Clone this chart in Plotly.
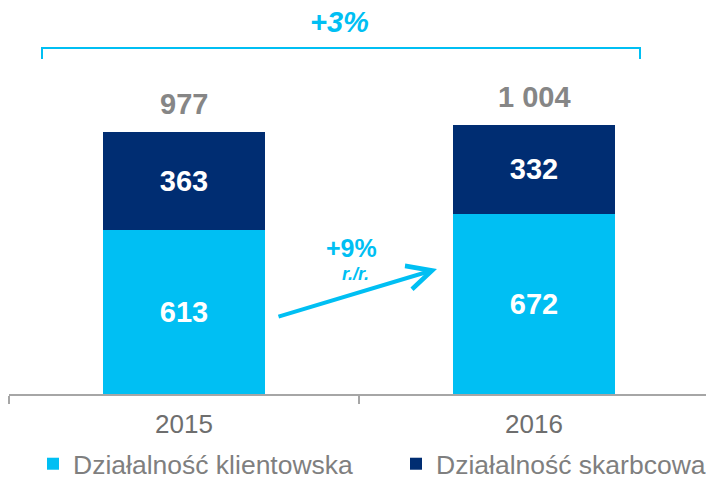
import plotly.graph_objects as go

years = ["2015", "2016"]
klient = [613, 672]
skarb = [363, 332]
totals = [977, 1004]
total_labels = ["977", "1 004"]
growth_total = "+3%"
growth_klient = "+9%"
growth_sub = "r./r."

LIGHT = "#00BFF3"
DARK = "#002D72"
GREY_TXT = "#868686"
AXIS_GREY = "#A6A6A6"
FONT = "Liberation Sans, Arial, sans-serif"

W, H = 706, 479
ML, MR, MT, MB = 9, 0, 0, 85
PW, PH = W - ML - MR, H - MT - MB


def px(x):
    return (x - ML) / PW


def py(y):
    return (H - MB - y) / PH


fig = go.Figure()
fig.add_trace(
    go.Bar(
        x=years, y=klient, name="Działalność klientowska", legend="legend",
        marker=dict(color=LIGHT, line=dict(width=0)),
        text=[str(v) for v in klient], textposition="inside",
        insidetextanchor="middle", textangle=0,
        textfont=dict(family=FONT, size=29, color="white", weight="bold"),
    )
)
fig.add_trace(
    go.Bar(
        x=years, y=skarb, name="Działalność skarbcowa", legend="legend2",
        marker=dict(color=DARK, line=dict(width=0)),
        text=[str(v) for v in skarb], textposition="inside",
        insidetextanchor="middle", textangle=0,
        textfont=dict(family=FONT, size=29, color="white", weight="bold"),
    )
)

for i, (tot, lab) in enumerate(zip(totals, total_labels)):
    fig.add_annotation(
        x=i, y=tot, text=lab, showarrow=False, yanchor="bottom", yshift=10,
        font=dict(family=FONT, size=29, color=GREY_TXT, weight="bold"),
    )

# bracket over both bars
fig.add_shape(
    type="path", xref="paper", yref="paper",
    path=f"M{px(42)},{py(59)} L{px(42)},{py(48)} L{px(640)},{py(48)} L{px(640)},{py(59)}",
    line=dict(color=LIGHT, width=2),
)
fig.add_annotation(
    xref="paper", yref="paper", x=px(339), y=py(22), yanchor="middle", text=growth_total,
    showarrow=False, font=dict(family=FONT, size=29, color=LIGHT, weight="bold", style="italic"),
)

# growth arrow
fig.add_annotation(
    xref="paper", yref="paper", axref="pixel", ayref="pixel",
    x=px(437), y=py(269), ax=277 - 437, ay=317 - 269, text="",
    showarrow=True, arrowhead=5, arrowsize=1.2, arrowwidth=4, arrowcolor=LIGHT,
    standoff=0, startstandoff=0,
)
fig.add_annotation(
    xref="paper", yref="paper", x=px(351), y=py(248), yanchor="middle", text=growth_klient,
    showarrow=False, font=dict(family=FONT, size=25, color=LIGHT, weight="bold"),
)
fig.add_annotation(
    xref="paper", yref="paper", x=px(355), y=py(274), yanchor="middle", text=growth_sub,
    showarrow=False, font=dict(family=FONT, size=18, color=LIGHT, weight="bold", style="italic"),
)

legend_style = dict(
    orientation="h", yanchor="top", y=py(440), xanchor="left",
    font=dict(family=FONT, size=26.5, color="#7F7F7F"),
    bgcolor="rgba(0,0,0,0)",
)
fig.update_layout(
    width=W, height=H, barmode="stack", bargap=0.537,
    margin=dict(l=ML, r=MR, t=MT, b=MB, autoexpand=False),
    plot_bgcolor="white", paper_bgcolor="white",
    showlegend=True,
    legend=dict(x=px(33), **legend_style),
    legend2=dict(x=px(396), **legend_style),
)
fig.update_xaxes(
    type="category",
    range=[-0.5, -0.5 + PW / 350], showline=True, linecolor=AXIS_GREY, linewidth=2,
    ticks="outside", tickson="boundaries", ticklen=8, tickcolor=AXIS_GREY, tickwidth=2,
    tickfont=dict(family=FONT, size=26, color="#6E6E6E"), showgrid=False,
    ticklabelstandoff=6,
)
fig.update_yaxes(range=[0, PH / 0.2683], visible=False, showgrid=False)

fig.write_html(
    "out.html",
    config={"displayModeBar": False},
    post_script="document.body.style.margin = '0';",
)
